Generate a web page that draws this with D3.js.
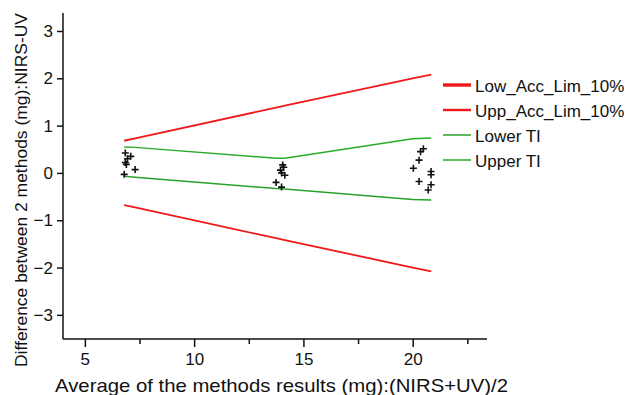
<!DOCTYPE html>
<html><head><meta charset="utf-8">
<script src="https://cdn.jsdelivr.net/npm/d3@7"></script>
<style>body{margin:0;background:#fff}svg{display:block}text{font-family:"Liberation Sans",Arial,sans-serif;fill:#111}</style>
</head><body>
<script>
const lineX = [6.8, 7.3, 13.75, 14.15, 20.0, 20.85];
const lowAccLim = [-0.68, -0.73, -1.38, -1.42, -2.0, -2.08];
const uppAccLim = [0.68, 0.73, 1.38, 1.42, 2.0, 2.08];
const lowerTI = [-0.07, -0.09, -0.33, -0.34, -0.56, -0.57];
const upperTI = [0.55, 0.54, 0.31, 0.31, 0.72, 0.74];
const pointX = [6.85, 7.1, 6.95, 6.85, 6.9, 7.3, 6.8,
                14.05, 14.1, 13.95, 14.0, 14.15, 13.75, 14.0,
                20.36, 20.49, 20.29, 20.03, 20.84, 20.84, 20.29, 20.84, 20.71];
const pointY = [0.42, 0.35, 0.3, 0.22, 0.18, 0.07, -0.03,
                0.17, 0.12, 0.06, 0.0, -0.05, -0.2, -0.3,
                0.45, 0.51, 0.27, 0.1, 0.03, -0.04, -0.18, -0.25, -0.36];
const xTicks = [5, 10, 15, 20];
const xMinor = [7.5, 12.5, 17.5, 22.5];
const yTicks = [-3, -2, -1, 0, 1, 2, 3];
const legendLabels = ["Low_Acc_Lim_10%", "Upp_Acc_Lim_10%", "Lower TI", "Upper TI"];

const W = 629, H = 395;
const L = 63, R = 487, T = 13, B = 339;
const svg = d3.select("body").append("svg").attr("width", W).attr("height", H);
const x = d3.scaleLinear().domain([4.0, 23.4]).range([L, R]);
const y = d3.scaleLinear().domain([-3.51, 3.38]).range([B, T]);

// axes
const yAx = svg.append("g").attr("transform", `translate(${L},0)`)
  .call(d3.axisLeft(y).tickValues(yTicks).tickSize(6).tickPadding(4).tickFormat(d3.format("d")));
const xAx = svg.append("g").attr("transform", `translate(0,${B})`)
  .call(d3.axisBottom(x).tickValues(xTicks).tickSize(8).tickPadding(6).tickFormat(d3.format("d")));
svg.append("g").attr("transform", `translate(0,${B})`)
  .call(d3.axisBottom(x).tickValues(xMinor).tickSize(5).tickFormat(""))
  .select(".domain").remove();
svg.selectAll(".domain").attr("stroke", "#111").attr("stroke-width", 1.5);
svg.selectAll(".tick line").attr("stroke", "#111").attr("stroke-width", 1.5);
svg.selectAll(".tick text").style("font-size", "17px").style("font-family", "Liberation Sans, Arial, sans-serif").attr("fill", "#111");
yAx.select(".domain").attr("d", `M0,${T}V${B}`);
xAx.select(".domain").attr("d", `M${L},0H${R}`);

// series lines
const line = d3.line().x((d, i) => x(lineX[i])).y(d => y(d));
const series = [
  {v: lowAccLim, c: "#f01818", w: 1.8},
  {v: uppAccLim, c: "#f01818", w: 1.8},
  {v: lowerTI, c: "#26a326", w: 1.5},
  {v: upperTI, c: "#2aab2a", w: 1.5}
];
series.forEach(s => {
  svg.append("path").datum(s.v).attr("d", line).attr("fill", "none")
    .attr("stroke", s.c).attr("stroke-width", s.w);
});

// points
const pts = svg.append("g");
pointX.forEach((px, i) => {
  const cx = x(px), cy = y(pointY[i]);
  pts.append("path").attr("d", `M${cx-3.5},${cy}H${cx+3.5}M${cx},${cy-3.5}V${cy+3.5}`)
    .attr("stroke", "#111").attr("stroke-width", 1.6);
});

// legend
const legW = [3.4, 2.4, 1.5, 1.5];
const legC = ["#f01818", "#f01818", "#26a326", "#2aab2a"];
legendLabels.forEach((lab, i) => {
  const ly = 85 + i * 25;
  svg.append("line").attr("x1", 443).attr("x2", 471).attr("y1", ly).attr("y2", ly)
    .attr("stroke", legC[i]).attr("stroke-width", legW[i]);
  svg.append("text").attr("x", 475).attr("y", ly + 7).style("font-size", "17px").text(lab);
});

// axis titles
svg.append("text").attr("x", 55).attr("y", 392).style("font-size", "18.5px")
  .attr("textLength", 453).attr("lengthAdjust", "spacingAndGlyphs")
  .text("Average of the methods results (mg):(NIRS+UV)/2");
svg.append("text").attr("transform", "translate(27,190) rotate(-90)").attr("text-anchor", "middle")
  .style("font-size", "17px").attr("textLength", 354).attr("lengthAdjust", "spacingAndGlyphs")
  .text("Difference between 2 methods (mg):NIRS-UV");
</script>
</body></html>
